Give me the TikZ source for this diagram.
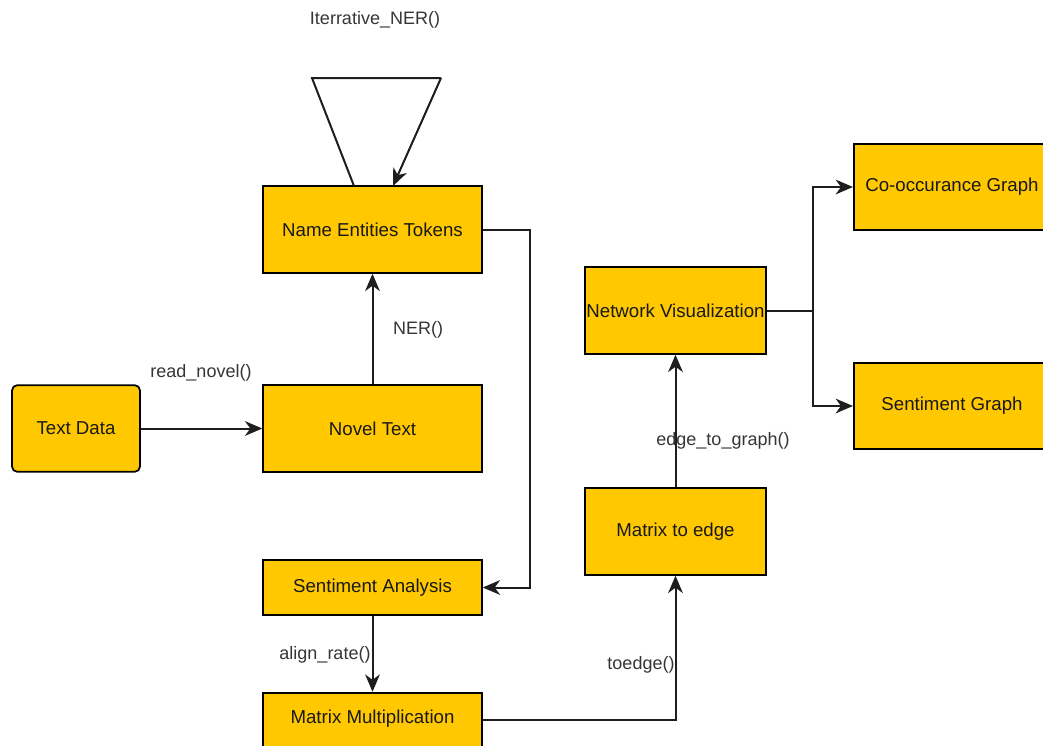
\documentclass[tikz,border=0pt]{standalone}
\usepackage{fontspec}
\setmainfont{Liberation Sans}
\usetikzlibrary{arrows.meta}
\definecolor{boxfill}{HTML}{FFC800}
\definecolor{linecol}{HTML}{1E1E1E}
\begin{document}
\begin{tikzpicture}[x=0.75pt,y=-0.75pt,
  blk/.style={draw=black,line width=1.3pt,fill=boxfill,text=black!90,font=\fontsize{14}{16}\selectfont,inner sep=0pt},
  conn/.style={draw=linecol,line width=1.5pt},
  arr/.style={conn,-{Stealth[length=13pt,width=11pt,inset=4pt]}},
  lbl/.style={text=linecol!90,font=\fontsize{13.5}{15}\selectfont,inner sep=0pt}]
\useasboundingbox (0,0) rectangle (1043,746);
% boxes
\node[blk,rounded corners=4pt,minimum width=96pt,minimum height=65pt] (td) at (76,428.5) {Text Data};
\node[blk,minimum width=164pt,minimum height=65pt] (nt) at (372.5,428.5) {Novel Text};
\node[blk,minimum width=164pt,minimum height=65pt] (ne) at (372.5,229.5) {Name Entities Tokens};
\node[blk,minimum width=164pt,minimum height=41pt] (sa) at (372.5,587.5) {Sentiment Analysis};
\node[blk,minimum width=164pt,minimum height=65pt] (mm) at (372.5,736) {};
\node[blk,draw=none,fill=none] (mmt) at (372.5,719) {Matrix Multiplication};
\node[blk,minimum width=136pt,minimum height=65pt] (me) at (675.5,531.5) {Matrix to edge};
\node[blk,minimum width=136pt,minimum height=65pt] (nv) at (675.5,310.5) {Network Visualization};
\node[blk,minimum width=150pt,minimum height=65pt,anchor=west] (cg) at (853,187) {};
\node[blk,draw=none,fill=none] (cgt) at (952,187) {Co-occurance Graph};
\node[blk,minimum width=150pt,minimum height=65pt,anchor=west] (sg) at (853,406) {};
\node[blk,draw=none,fill=none] (sgt) at (952,406) {Sentiment Graph};
% triangle loop
\coordinate (t1) at (312,78);
\coordinate (t2) at (441,78);
\coordinate (tl) at (354,186);
\coordinate (tr) at (393,186);
\draw[conn,line join=miter] (tl) -- (t1) -- (t2);
\draw[arr] (t2) -- (tr);
\node[lbl] (it) at (375,20) {Iterrative\_NER()};
% connectors
\draw[arr] (td.east) -- (nt.west);
\node[lbl] (rn) at (201,373) {read\_novel()};
\draw[arr] (nt.north) -- (ne.south);
\node[lbl] (ner) at (418,330) {NER()};
\coordinate (c1) at (530,229.5);
\coordinate (c2) at (530,587.5);
\draw[arr] (ne.east) -- (c1) -- (c2) -- (sa.east);
\draw[arr] (sa.south) -- (sa.south |- mm.north);
\node[lbl] (ar) at (325,655) {align\_rate()};
\coordinate (c3) at (675.5,720);
\draw[arr] (mm.east |- c3) -- (c3) -- (me.south);
\node[lbl] (te) at (641,665) {toedge()};
\draw[arr] (me.north) -- (nv.south);
\node[lbl] (eg) at (723,441) {edge\_to\_graph()};
\coordinate (c4) at (813,310.5);
\coordinate (c5) at (813,187);
\coordinate (c6) at (813,406);
\draw[conn] (nv.east) -- (c4);
\draw[arr] (c4) -- (c5) -- (cg.west);
\draw[arr] (c4) -- (c6) -- (sg.west);
\end{tikzpicture}
\end{document}
